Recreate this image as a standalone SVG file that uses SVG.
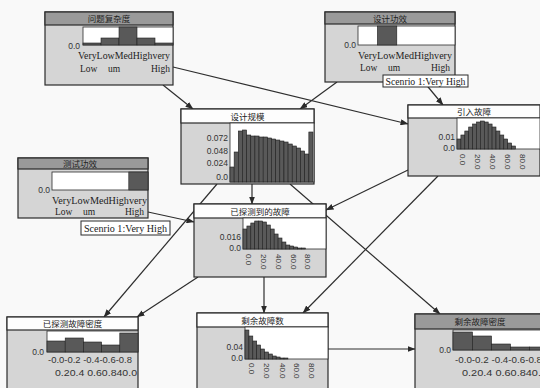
<svg xmlns="http://www.w3.org/2000/svg" width="540" height="388" viewBox="0 0 540 388">
<defs>
<marker id="ah" markerWidth="8" markerHeight="6" refX="7.5" refY="3" orient="auto" markerUnits="userSpaceOnUse">
<path d="M0,0 L8,3 L0,6 z" fill="#2a2a2a"/>
</marker>
<style>
.box{fill:#d5d5d5;stroke:#2b2b2b;stroke-width:1.2}
.hw{fill:#fdfdfd;stroke:#2b2b2b;stroke-width:1.2}
.hg{fill:#9a9a9a;stroke:#2b2b2b;stroke-width:1.2}
.plot{fill:#fff;stroke:#2b2b2b;stroke-width:0.8}
.bar{fill:#595959;stroke:#1e1e1e;stroke-width:0.6}
.ttl{font-family:"Noto Sans CJK SC",sans-serif;font-size:8.5px;fill:#222;text-anchor:middle}
.num{font-family:"Liberation Sans",Arial,sans-serif;font-size:8.5px;fill:#333;text-anchor:end}
.cat{font-family:"Liberation Serif","Times New Roman",serif;font-size:9.5px;fill:#222}
.rot{font-family:"Liberation Sans",Arial,sans-serif;font-size:8px;fill:#333}
.rng{font-family:"Liberation Sans",Arial,sans-serif;font-size:9px;fill:#333}
.sc{fill:#fff;stroke:#2b2b2b;stroke-width:1}
.edge{fill:none;stroke:#2e2e2e;stroke-width:1.2;marker-end:url(#ah)}
</style>
</defs>
<rect x="0" y="0" width="540" height="388" fill="#f9f9f9"/>

<g id="connectors">
<line class="edge" x1="163" y1="85" x2="193" y2="109"/>
<line class="edge" x1="173" y1="67" x2="408" y2="124"/>
<line class="edge" x1="337" y1="82" x2="300" y2="109"/>
<line class="edge" x1="424" y1="82" x2="443" y2="105"/>
<line class="edge" x1="252" y1="184" x2="252" y2="204"/>
<line class="edge" x1="290" y1="184" x2="440" y2="314"/>
<line class="edge" x1="217" y1="184" x2="104" y2="317"/>
<line class="edge" x1="198" y1="277" x2="137" y2="317"/>
<line class="edge" x1="148" y1="212" x2="194" y2="222"/>
<line class="edge" x1="408" y1="170" x2="326" y2="210"/>
<line class="edge" x1="438" y1="176" x2="303" y2="313"/>
<line class="edge" x1="264" y1="277" x2="264" y2="313"/>
<line class="edge" x1="328" y1="349" x2="415" y2="349"/>
</g>

<g id="node-wentifuzadu">
<rect class="box" x="45" y="12" width="128" height="73"/>
<rect class="hg" x="45" y="12" width="128" height="13"/>
<text class="ttl" x="109" y="22">问题复杂度</text>
<rect class="plot" x="83" y="27" width="90" height="18"/>
<rect class="bar" x="83" y="43" width="18" height="2"/>
<rect class="bar" x="101" y="38" width="18" height="7"/>
<rect class="bar" x="119" y="27" width="18" height="18"/>
<rect class="bar" x="137" y="38" width="18" height="7"/>
<rect class="bar" x="155" y="43" width="18" height="2"/>
<text class="num" x="80" y="49">0.0</text>
<text class="cat" x="78" y="59" textLength="92" lengthAdjust="spacingAndGlyphs">VeryLowMedHighvery</text>
<text class="cat" y="72"><tspan x="80">Low</tspan><tspan x="108">um</tspan><tspan x="151">High</tspan></text>
</g>

<g id="node-shejigongxiao">
<rect class="box" x="325" y="12" width="130" height="70"/>
<rect class="hg" x="325" y="12" width="130" height="12"/>
<text class="ttl" x="390" y="21.5">设计功效</text>
<rect class="plot" x="358" y="26" width="97" height="19"/>
<rect class="bar" x="377.4" y="26" width="19.4" height="19"/>
<text class="num" x="356" y="48">0.0</text>
<text class="cat" x="358" y="59" textLength="94" lengthAdjust="spacingAndGlyphs">VeryLowMedHighvery</text>
<text class="cat" y="71"><tspan x="360">Low</tspan><tspan x="388">um</tspan><tspan x="431">High</tspan></text>
<rect class="sc" x="383" y="75" width="85" height="12"/>
<text class="cat" x="385.5" y="84.5" font-size="9" textLength="80" lengthAdjust="spacingAndGlyphs">Scenrio 1:Very High</text>
</g>

<g id="node-shejiguimo">
<rect class="box" x="181" y="109" width="133" height="75"/>
<rect class="hw" x="181" y="109" width="133" height="14"/>
<text class="ttl" x="247.5" y="119.5">设计规模</text>
<rect class="plot" x="230" y="123" width="84" height="59"/>
<rect class="bar" x="230" y="167" width="4.15" height="15"/>
<rect class="bar" x="234.15" y="152" width="4.15" height="30"/>
<rect class="bar" x="238.3" y="131" width="4.15" height="51"/>
<rect class="bar" x="242.45" y="130" width="4.15" height="52"/>
<rect class="bar" x="246.6" y="135" width="4.15" height="47"/>
<rect class="bar" x="250.75" y="136" width="4.15" height="46"/>
<rect class="bar" x="254.9" y="136" width="4.15" height="46"/>
<rect class="bar" x="259.05" y="137" width="4.15" height="45"/>
<rect class="bar" x="263.2" y="137" width="4.15" height="45"/>
<rect class="bar" x="267.35" y="138" width="4.15" height="44"/>
<rect class="bar" x="271.5" y="139" width="4.15" height="43"/>
<rect class="bar" x="275.65" y="140" width="4.15" height="42"/>
<rect class="bar" x="279.8" y="141" width="4.15" height="41"/>
<rect class="bar" x="283.95" y="142" width="4.15" height="40"/>
<rect class="bar" x="288.1" y="144" width="4.15" height="38"/>
<rect class="bar" x="292.25" y="146" width="4.15" height="36"/>
<rect class="bar" x="296.4" y="148" width="4.15" height="34"/>
<rect class="bar" x="300.55" y="151" width="4.15" height="31"/>
<rect class="bar" x="304.7" y="154" width="4.15" height="28"/>
<rect class="bar" x="308.85" y="132" width="4.15" height="50"/>
<text class="num" x="228" y="141">0.072</text>
<text class="num" x="228" y="154">0.048</text>
<text class="num" x="228" y="166">0.024</text>
<text class="num" x="228" y="180">0.0</text>
</g>

<g id="node-yinruguzhang">
<rect class="box" x="408" y="105" width="132" height="71"/>
<rect class="hw" x="408" y="105" width="132" height="13"/>
<text class="ttl" x="474" y="115">引入故障</text>
<rect class="plot" x="457" y="118" width="83" height="31"/>
<rect class="bar" x="457" y="139" width="3.9" height="10"/>
<rect class="bar" x="460.9" y="135" width="3.9" height="14"/>
<rect class="bar" x="464.8" y="131" width="3.9" height="18"/>
<rect class="bar" x="468.7" y="127" width="3.9" height="22"/>
<rect class="bar" x="472.6" y="124" width="3.9" height="25"/>
<rect class="bar" x="476.5" y="122" width="3.9" height="27"/>
<rect class="bar" x="480.4" y="121" width="3.9" height="28"/>
<rect class="bar" x="484.3" y="122" width="3.9" height="27"/>
<rect class="bar" x="488.2" y="124" width="3.9" height="25"/>
<rect class="bar" x="492.1" y="127" width="3.9" height="22"/>
<rect class="bar" x="496" y="131" width="3.9" height="18"/>
<rect class="bar" x="499.9" y="135" width="3.9" height="14"/>
<rect class="bar" x="503.8" y="139" width="3.9" height="10"/>
<rect class="bar" x="507.7" y="143" width="3.9" height="6"/>
<rect class="bar" x="511.6" y="146" width="3.9" height="3"/>
<text class="num" x="455" y="140">0.01</text>
<text class="num" x="455" y="151">0.0</text>
<text class="rot" transform="translate(460,154) rotate(90)">0.0</text>
<text class="rot" transform="translate(475,154) rotate(90)">20.0</text>
<text class="rot" transform="translate(490,154) rotate(90)">40.0</text>
<text class="rot" transform="translate(505,154) rotate(90)">60.0</text>
<text class="rot" transform="translate(520,154) rotate(90)">80.0</text>
</g>

<g id="node-ceshigongxiao">
<rect class="box" x="18" y="158" width="130" height="60"/>
<rect class="hg" x="18" y="158" width="130" height="11"/>
<text class="ttl" x="80" y="166.5">测试功效</text>
<rect class="plot" x="52" y="172" width="96" height="18"/>
<rect class="bar" x="128.8" y="172" width="19.2" height="18"/>
<text class="num" x="50" y="193">0.0</text>
<text class="cat" x="52" y="203.5" textLength="95" lengthAdjust="spacingAndGlyphs">VeryLowMedHighvery</text>
<text class="cat" y="215"><tspan x="55">Low</tspan><tspan x="83">um</tspan><tspan x="125">High</tspan></text>
<rect class="sc" x="81" y="221" width="89" height="14"/>
<text class="cat" x="84" y="231.5" font-size="9" textLength="83" lengthAdjust="spacingAndGlyphs">Scenrio 1:Very High</text>
</g>

<g id="node-yitancedaodeguzhang">
<rect class="box" x="194" y="204" width="132" height="73"/>
<rect class="hw" x="194" y="204" width="132" height="14"/>
<text class="ttl" x="260" y="214.5">已探测到的故障</text>
<rect class="plot" x="243" y="218" width="83" height="31"/>
<rect class="bar" x="243" y="229" width="3.9" height="20"/>
<rect class="bar" x="246.9" y="226" width="3.9" height="23"/>
<rect class="bar" x="250.8" y="223" width="3.9" height="26"/>
<rect class="bar" x="254.7" y="221" width="3.9" height="28"/>
<rect class="bar" x="258.6" y="221" width="3.9" height="28"/>
<rect class="bar" x="262.5" y="222" width="3.9" height="27"/>
<rect class="bar" x="266.4" y="225" width="3.9" height="24"/>
<rect class="bar" x="270.3" y="229" width="3.9" height="20"/>
<rect class="bar" x="274.2" y="234" width="3.9" height="15"/>
<rect class="bar" x="278.1" y="238" width="3.9" height="11"/>
<rect class="bar" x="282" y="242" width="3.9" height="7"/>
<rect class="bar" x="285.9" y="245" width="3.9" height="4"/>
<rect class="bar" x="289.8" y="246" width="3.9" height="3"/>
<rect class="bar" x="293.7" y="247" width="3.9" height="2"/>
<rect class="bar" x="297.6" y="248" width="3.9" height="1"/>
<rect class="bar" x="301.5" y="248" width="3.9" height="1"/>
<text class="num" x="241" y="240">0.016</text>
<text class="num" x="241" y="251">0.0</text>
<text class="rot" transform="translate(246,254) rotate(90)">0.0</text>
<text class="rot" transform="translate(261,254) rotate(90)">20.0</text>
<text class="rot" transform="translate(276,254) rotate(90)">40.0</text>
<text class="rot" transform="translate(291,254) rotate(90)">60.0</text>
<text class="rot" transform="translate(305,254) rotate(90)">80.0</text>
</g>

<g id="node-yitanceguzhangmidu">
<rect class="box" x="7" y="317" width="131" height="80"/>
<rect class="hw" x="7" y="317" width="131" height="13"/>
<text class="ttl" x="72.5" y="327">已探测故障密度</text>
<rect class="plot" x="47" y="331" width="91" height="21"/>
<rect class="bar" x="47" y="341" width="18.2" height="11"/>
<rect class="bar" x="65.2" y="338" width="18.2" height="14"/>
<rect class="bar" x="83.4" y="342" width="18.2" height="10"/>
<rect class="bar" x="101.6" y="345" width="18.2" height="7"/>
<rect class="bar" x="119.8" y="333" width="18.2" height="19"/>
<text class="num" x="44" y="355">0.0</text>
<text class="rng" x="48" y="363" textLength="84" lengthAdjust="spacingAndGlyphs">-0.0-0.2 -0.4-0.6-0.8</text>
<text class="rng" x="55" y="376" textLength="82" lengthAdjust="spacingAndGlyphs">0.20.4 0.60.840.0</text>
</g>

<g id="node-shengyuguzhangshu">
<rect class="box" x="197" y="313" width="131" height="80"/>
<rect class="hw" x="197" y="313" width="131" height="14"/>
<text class="ttl" x="262.5" y="323.5">剩余故障数</text>
<rect class="plot" x="245" y="327" width="83" height="32"/>
<rect class="bar" x="245" y="330" width="3.9" height="29"/>
<rect class="bar" x="248.9" y="336" width="3.9" height="23"/>
<rect class="bar" x="252.8" y="341" width="3.9" height="18"/>
<rect class="bar" x="256.7" y="345" width="3.9" height="14"/>
<rect class="bar" x="260.6" y="349" width="3.9" height="10"/>
<rect class="bar" x="264.5" y="352" width="3.9" height="7"/>
<rect class="bar" x="268.4" y="354" width="3.9" height="5"/>
<rect class="bar" x="272.3" y="356" width="3.9" height="3"/>
<rect class="bar" x="276.2" y="357" width="3.9" height="2"/>
<rect class="bar" x="280.1" y="358" width="3.9" height="1"/>
<rect class="bar" x="284" y="358" width="3.9" height="1"/>
<text class="num" x="243" y="350">0.04</text>
<text class="num" x="243" y="361">0.0</text>
<text class="rot" transform="translate(249,363) rotate(90)">0.0</text>
<text class="rot" transform="translate(264,363) rotate(90)">20.0</text>
<text class="rot" transform="translate(280,363) rotate(90)">40.0</text>
<text class="rot" transform="translate(294,363) rotate(90)">60.0</text>
<text class="rot" transform="translate(309,363) rotate(90)">80.0</text>
</g>

<g id="node-shengyuguzhangmidu">
<rect class="box" x="415" y="314" width="130" height="80"/>
<rect class="hg" x="415" y="314" width="130" height="15"/>
<text class="ttl" x="480" y="325">剩余故障密度</text>
<rect class="plot" x="453" y="330" width="92" height="20"/>
<rect class="bar" x="453" y="332" width="19.5" height="18"/>
<rect class="bar" x="472.5" y="336" width="19" height="14"/>
<rect class="bar" x="491.5" y="344" width="19" height="6"/>
<rect class="bar" x="510.5" y="347" width="19" height="3"/>
<rect class="bar" x="529.5" y="347" width="19" height="3"/>
<text class="num" x="451" y="353">0.0</text>
<text class="rng" x="455" y="363" textLength="87" lengthAdjust="spacingAndGlyphs">-0.0-0.2 -0.4-0.6-0.8</text>
<text class="rng" x="462" y="376" textLength="85" lengthAdjust="spacingAndGlyphs">0.20.4 0.60.840.0</text>
</g>
</svg>
